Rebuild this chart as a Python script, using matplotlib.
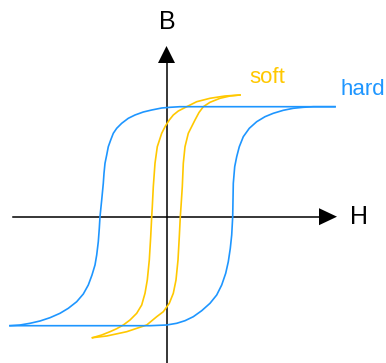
import matplotlib.pyplot as plt

plt.rcParams['font.family'] = ['Liberation Sans', 'DejaVu Sans']

# hysteresis loops, H and B in arbitrary units
# hard material: descending branch (right -> left)
hard_down_H = [168.5, 13.5, 3.5, -4.8, -14.8, -23.2, -31.5, -38.2, -44.8, -49.8,
               -53.2, -55.8, -58.2, -59.8, -61.5, -62.5, -63.2, -64.8, -66.5, -67.2,
               -68.2, -69.8, -71.5, -74.5, -78.2, -83.2, -89.8, -98.2, -106.5, -116.5,
               -126.5, -136.5, -146.5, -156.5]
hard_down_B = [110, 110, 109.4, 108.7, 106.7, 104.7, 101.7, 98.4, 93.4, 88.4,
               83.4, 76.7, 70, 61.7, 53.4, 43.4, 33.4, 16.7, 0, -11.6,
               -25, -38.3, -48.3, -58.3, -68.3, -77.3, -85, -91.6, -96.6, -101,
               -104.3, -106.6, -108.3, -109]
# hard material: ascending branch (left -> right)
hard_up_H = [-156.5, -16.5, 0.2, 10.2, 18.5, 26.8, 35.2, 43.5, 50.2, 55.2,
             59.2, 61.8, 63.8, 65.2, 66.2, 66.5, 66.8, 68.2, 70.2, 72.8,
             76.8, 82.8, 90.2, 98.5, 106.8, 116.8, 126.8, 136.8, 146.8, 168.5]
hard_up_B = [-109, -109, -108.3, -106.6, -104, -100, -94, -86.6, -78.3, -68.3,
             -56.6, -45, -31.6, -18.3, 0, 16.7, 33.4, 50, 60, 70,
             80, 88.4, 95, 100, 103.4, 106.4, 108.4, 109.4, 110, 110]

# soft material: descending branch
soft_down_H = [73.5, 58.5, 43.5, 30.2, 20.2, 11.8, 6.8, 2.8, -1.2, -4.8,
               -9.2, -11.5, -13.2, -14.2, -14.8, -15.8, -17.2, -19.2, -21.5, -24.8,
               -29.8, -36.5, -43.2, -49.8, -56.5, -64.8, -74]
soft_down_B = [121.7, 120.7, 118.4, 115, 110, 105.7, 101.7, 96.7, 90.5, 83.4,
               70, 53.4, 30, 10, 0, -20, -43.3, -63.3, -76.6, -88.3,
               -96.6, -103.3, -108.3, -112, -115, -118.3, -121]
# soft material: ascending branch
soft_up_H = [-74, -59.8, -39.8, -19.8, -9.8, -3.2, 2.8, 6.8, 9.5, 11.5,
             12.8, 13.8, 14.5, 15.8, 16.8, 18.5, 21.8, 28.5, 32.5, 36.8,
             43.5, 53.5, 63.5, 73.5]
soft_up_B = [-121, -119.3, -115, -108.3, -100, -95, -86.6, -76.6, -63.3, -43.3,
             -20, 0, 10, 30, 53.4, 70, 83.4, 96.7, 104.2, 110,
             114.4, 118.4, 120.7, 121.7]

blue = '#1E96FF'
gold = '#FFC800'

fig = plt.figure(figsize=(3.86, 3.63), dpi=100)
ax = fig.add_axes([0, 0, 1, 1])
ax.set_xlim(-166.5, 219.5)
ax.set_ylim(-146.3, 216.7)
ax.axis('off')

# axes with arrow heads
ax.plot([-153.5, 153], [0, 0], color='black', lw=1.1)
ax.plot([0, 0], [-146.3, 154], color='black', lw=1.1)
ax.fill([152.5, 170.5, 152.5], [8.5, 0, -8.5], color='black', lw=0)
ax.fill([-8.5, 0, 8.5], [153.7, 170.7, 153.7], color='black', lw=0)

ax.plot(soft_down_H, soft_down_B, color=gold, lw=1.2)
ax.plot(soft_up_H, soft_up_B, color=gold, lw=1.2)
ax.plot(hard_down_H, hard_down_B, color=blue, lw=1.2)
ax.plot(hard_up_H, hard_up_B, color=blue, lw=1.2)

ax.text(0.5, 194.7, 'B', fontsize=18, ha='center', va='center')
ax.text(192.5, -0.5, 'H', fontsize=18, ha='center', va='center')
ax.text(100.5, 133.4, 'soft', fontsize=16, color=gold, ha='center', va='baseline')
ax.text(219, 121.7, 'hard', fontsize=16, color=blue, ha='right', va='baseline')

fig.savefig('out.png', dpi=100)
